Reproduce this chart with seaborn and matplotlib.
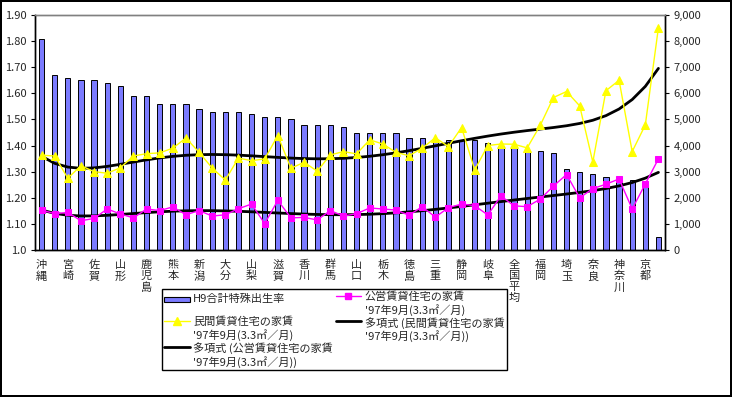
import numpy as np
import pandas as pd
import matplotlib
matplotlib.use("Agg")
import matplotlib.pyplot as plt
import seaborn as sns
from matplotlib.patches import Patch, Rectangle
from matplotlib.lines import Line2D
from matplotlib.legend_handler import HandlerPatch
from matplotlib.ticker import FixedLocator, FuncFormatter

# prefectures sorted by 1997 total fertility rate (every other one is labelled on the axis)
prefectures = [
    "沖縄", "福島", "宮崎", "島根", "佐賀", "鳥取", "山形", "長崎", "鹿児島", "岩手",
    "熊本", "福井", "新潟", "長野", "大分", "富山", "山梨", "秋田", "滋賀", "青森",
    "香川", "石川", "群馬", "岡山", "山口", "茨城", "栃木", "愛媛", "徳島", "広島",
    "三重", "高知", "静岡", "和歌山", "岐阜", "愛知", "全国平均", "兵庫", "福岡", "大阪",
    "埼玉", "千葉", "奈良", "宮城", "神奈川", "北海道", "京都", "東京",
]

tfr = [
    1.81, 1.67, 1.66, 1.65, 1.65, 1.64, 1.63, 1.59, 1.59, 1.56,
    1.56, 1.56, 1.54, 1.53, 1.53, 1.53, 1.52, 1.51, 1.51, 1.50,
    1.48, 1.48, 1.48, 1.47, 1.45, 1.45, 1.45, 1.45, 1.43, 1.43,
    1.42, 1.42, 1.42, 1.42, 1.41, 1.40, 1.39, 1.38, 1.38, 1.37,
    1.31, 1.30, 1.29, 1.28, 1.28, 1.27, 1.26, 1.05,
]

# public rental housing rent, yen per 3.3 m2 per month
public_rent = [
    1530, 1390, 1440, 1120, 1210, 1570, 1380, 1230, 1570, 1510,
    1650, 1350, 1510, 1300, 1350, 1580, 1760, 1010, 1900, 1230,
    1250, 1150, 1510, 1300, 1390, 1610, 1570, 1530, 1330, 1660,
    1260, 1620, 1760, 1700, 1340, 2070, 1690, 1660, 1950, 2450,
    2890, 2000, 2350, 2520, 2720, 1570, 2530, 3490,
]

# private rental housing rent, yen per 3.3 m2 per month
private_rent = [
    3630, 3600, 2750, 3230, 3000, 2940, 3150, 3600, 3690, 3720,
    3900, 4290, 3740, 3140, 2680, 3520, 3420, 3490, 4380, 3130,
    3360, 3020, 3640, 3770, 3680, 4220, 4060, 3740, 3610, 3900,
    4300, 3960, 4690, 3070, 4000, 4060, 4050, 3910, 4780, 5840,
    6070, 5520, 3370, 6100, 6500, 3770, 4790, 8520,
]

lbl_rate = "H9合計特殊出生率"
lbl_public = "公営賃貸住宅の家賃\n'97年9月(3.3㎡／月)"
lbl_private = "民間賃貸住宅の家賃\n'97年9月(3.3㎡／月)"
lbl_trend_private = "多項式 (民間賃貸住宅の家賃\n'97年9月(3.3㎡／月))"
lbl_trend_public = "多項式 (公営賃貸住宅の家賃\n'97年9月(3.3㎡／月))"

sns.set_style("white")
plt.rcParams["font.family"] = ["Noto Sans CJK JP", "DejaVu Sans"]
plt.rcParams["font.size"] = 8

df = pd.DataFrame({
    "pref": prefectures,
    "tfr": tfr,
    "public": public_rent,
    "private": private_rent,
})
df["pos"] = np.arange(len(df))

# polynomial trend lines like the Excel ones
deg = 6
xx = np.arange(1, len(df) + 1)
df["trend_private"] = np.polyval(np.polyfit(xx, df["private"], deg), xx)
df["trend_public"] = np.polyval(np.polyfit(xx, df["public"], deg), xx)

fig = plt.figure(figsize=(7.32, 3.97), dpi=100)
fig.patch.set_edgecolor("black")
fig.patch.set_linewidth(1.5)
ax = fig.add_axes([35 / 732, 1 - 250 / 397, 630 / 732, 235 / 397])

sns.barplot(data=df, x="pref", y="tfr", color="#7b7bff", width=0.4,
            edgecolor="black", linewidth=0.7, saturation=1, ax=ax)
ax.set_ylim(1.0, 1.9)
ax.set_xlim(-0.5, len(df) - 0.5)
ax.set_yticks(np.arange(1.0, 1.91, 0.1))
ax.yaxis.set_major_formatter(FuncFormatter(lambda v, p: "1.0" if abs(v - 1.0) < 1e-6 else f"{v:.2f}"))
ax.set_xlabel("")
ax.set_ylabel("")

ax2 = ax.twinx()
sns.lineplot(data=df, x="pos", y="trend_private", color="black", linewidth=2, ax=ax2)
sns.lineplot(data=df, x="pos", y="trend_public", color="black", linewidth=2, ax=ax2)
sns.lineplot(data=df, x="pos", y="private", color="#ffff00", linewidth=1,
             marker="^", markersize=6, markeredgecolor="#ffff00", ax=ax2)
sns.lineplot(data=df, x="pos", y="public", color="#ff00ff", linewidth=1,
             marker="s", markersize=5, markeredgecolor="#ff00ff", ax=ax2)
ax2.set_ylim(0, 9000)
ax2.set_yticks(np.arange(0, 9001, 1000))
ax2.yaxis.set_major_formatter(FuncFormatter(lambda v, p: f"{int(v):,}"))
ax2.set_ylabel("")
ax2.set_xlabel("")
ax2.set_xlim(-0.5, len(df) - 0.5)

# category labels: every other one, stacked vertically
ticklabels = ["\n".join(p) if i % 2 == 0 else "" for i, p in enumerate(prefectures)]
ax.set_xticks(np.arange(len(df)))
ax.set_xticklabels(ticklabels, rotation=0, va="top", linespacing=1.15)
ax.tick_params(axis="x", length=0, pad=7)
ax.xaxis.set_minor_locator(FixedLocator(np.arange(-0.5, len(df), 1)))
ax.tick_params(axis="x", which="minor", direction="in", length=3, width=0.8, color="black")
ax.tick_params(axis="y", length=3, width=0.8, direction="out", color="black", left=True, pad=3)
ax2.tick_params(axis="y", length=3, width=0.8, direction="out", color="black", right=True, pad=3)

for a in (ax, ax2):
    for s in ("left", "right", "bottom"):
        a.spines[s].set_color("black")
        a.spines[s].set_linewidth(1)
    a.spines["top"].set_color("#808080")
    a.spines["top"].set_linewidth(1)


def flat_bar(legend, orig_handle, xdescent, ydescent, width, height, fontsize):
    h = 3.8
    return Rectangle((-xdescent, -ydescent + (height - h) / 2), width, h)


handles = [
    Patch(facecolor="#7b7bff", edgecolor="black", linewidth=0.8),
    Line2D([], [], color="#ffff00", marker="^", markersize=6, linewidth=1),
    Line2D([], [], color="black", linewidth=2),
    Line2D([], [], color="#ff00ff", marker="s", markersize=5, linewidth=1),
    Line2D([], [], color="black", linewidth=2),
]
labels = [lbl_rate + "\n ", lbl_private, lbl_trend_public, lbl_public, lbl_trend_private]
leg = fig.legend(handles, labels, ncol=2, loc="upper left",
                 bbox_to_anchor=(162 / 732, 1 - 289 / 397),
                 frameon=True, fancybox=False, framealpha=1, edgecolor="black",
                 handlelength=2.3, handleheight=1.1, labelspacing=0.1,
                 columnspacing=0.25, borderpad=0.2, borderaxespad=0, handletextpad=0.3,
                 handler_map={Patch: HandlerPatch(patch_func=flat_bar)},
                 fontsize=8)
leg.get_frame().set_linewidth(1)
for t in leg.get_texts():
    t.set_linespacing(1.2)
# put the legend keys next to the first line of each label
for col in leg._legend_handle_box.get_children():
    for row in col.get_children():
        row.align = "top"

fig.savefig("out.png", dpi=100)
